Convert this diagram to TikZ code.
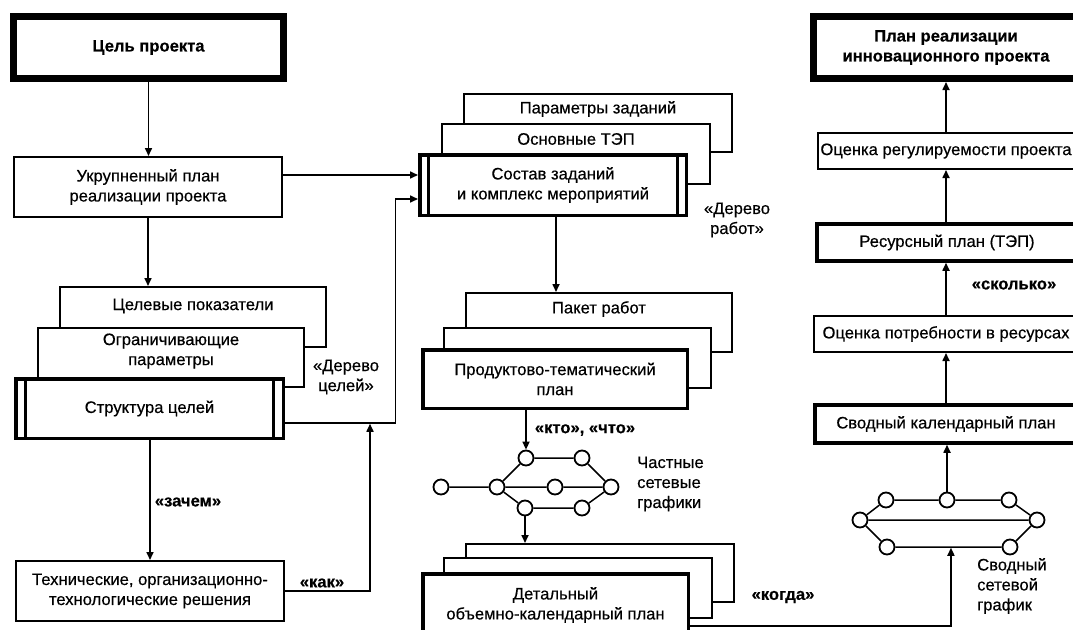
\documentclass[tikz,border=0pt]{standalone}
\usepackage{fontspec}
\setmainfont{Liberation Sans}[FakeBold=0.4]
\newfontfamily\titlefont{Liberation Sans}[FakeBold=0.4]
\usetikzlibrary{arrows.meta,calc}
\begin{document}
\begin{tikzpicture}[x=1pt,y=-1pt,
  every node/.style={font=\fontsize{16.6}{20}\selectfont, align=center, inner sep=0pt},
  box/.style={draw, fill=white, line width=2pt, rectangle},
  heavybox/.style={box, line width=3.5pt},
  titlebox/.style={box, line width=7pt, font=\fontsize{16.6}{20}\selectfont\bfseries},
  bars/.style={path picture={
     \draw[line width=3pt] ([xshift=#1]path picture bounding box.north west) -- ([xshift=#1]path picture bounding box.south west);
     \draw[line width=3pt] ([xshift=-#1]path picture bounding box.north east) -- ([xshift=-#1]path picture bounding box.south east);}},
  ev/.style={circle, draw, fill=white, line width=1.8pt, minimum size=15pt},
  netline/.style={line width=1.5pt},
  arr/.style={line width=1.6pt, -{Triangle[length=8pt,width=7pt]}},
  lbl/.style={},
  blbl/.style={font=\fontsize{16.6}{20}\selectfont\bfseries},
]
\useasboundingbox (0,0) rectangle (1073,629);
\clip (0,0) rectangle (1073,629);
\fill[white] (0,0) rectangle (1073,629);

% ---- left column
\node[titlebox, minimum width=270, minimum height=62] (goal) at (148.5,47.5) {Цель проекта};
\node[box, minimum width=268, minimum height=60] (plan1) at (148,187) {Укрупненный план\\реализации проекта};
\node[box, minimum width=266, minimum height=60, label={[anchor=center,yshift=-20pt]north:Целевые показатели}] (cel) at (193,317) {};
\node[box, minimum width=266, minimum height=59, label={[anchor=center,yshift=-24pt]north:Ограничивающие\\параметры}] (ogr) at (171,357.5) {};
\node[heavybox, bars=9.5pt, minimum width=267.5, minimum height=59.5] (struct) at (149.5,408.5) {Структура целей};
\node[box, minimum width=268, minimum height=60] (tech) at (150,591) {Технические, организационно-\\технологические решения};

% ---- middle column
\node[box, minimum width=268, minimum height=58, label={[anchor=center,yshift=-16pt]north:Параметры заданий}] (parz) at (598,123) {};
\node[box, minimum width=268, minimum height=60, label={[anchor=center,yshift=-16pt]north:Основные ТЭП}] (tep) at (576,154) {};
\node[heavybox, bars=9pt, minimum width=266.5, minimum height=60.5] (sostav) at (553,185) {Состав заданий\\и комплекс мероприятий};

\node[box, minimum width=266, minimum height=59, label={[anchor=center,yshift=-17pt]north:Пакет работ}] (paket) at (599,322.5) {};
\node[box, minimum width=267, minimum height=60] (blank2) at (577.5,358) {};
\node[heavybox, minimum width=264.5, minimum height=58.5] (prod) at (555,379) {Продуктово-тематический\\план};

\node[box, minimum width=268, minimum height=58] (b3a) at (600,573) {};
\node[box, minimum width=268, minimum height=60] (b3b) at (578,588) {};
\node[heavybox, minimum width=265.5, minimum height=62.5] (detal) at (555.5,605) {Детальный\\объемно-календарный план};

% ---- right column
\node[titlebox, minimum width=265, minimum height=62] (plan) at (946,47.5) {План реализации\\инновационного проекта};
\node[box, minimum width=256, minimum height=36] (ocreg) at (946,151) {Оценка регулируемости проекта};
\node[box, line width=3.5pt, minimum width=260, minimum height=37] (resurs) at (947,242.5) {Ресурсный план (ТЭП)};
\node[box, minimum width=264, minimum height=36] (ocpotr) at (946,334) {Оценка потребности в ресурсах};
\node[box, line width=3.5pt, minimum width=262, minimum height=38] (svod) at (946,424) {Сводный календарный план};

% ---- network 1
\node[ev] (n1a) at (441,487) {};
\node[ev] (n1b) at (497,487) {};
\node[ev] (n1c) at (526,458) {};
\node[ev] (n1d) at (582,458) {};
\node[ev] (n1e) at (555,487) {};
\node[ev] (n1f) at (611,487) {};
\node[ev] (n1g) at (525,508) {};
\node[ev] (n1h) at (582,508) {};
\draw[netline] (n1a) -- (n1b) (n1b) -- (n1e) (n1e) -- (n1f)
  (n1b) -- (n1c) (n1c) -- (n1d) (n1d) -- (n1f)
  (n1b) -- (n1g) (n1g) -- (n1h) (n1h) -- (n1f);

% ---- network 2
\node[ev] (n2a) at (860,520) {};
\node[ev] (n2b) at (886,500) {};
\node[ev] (n2c) at (947,500) {};
\node[ev] (n2d) at (1009,500) {};
\node[ev] (n2e) at (1037,520) {};
\node[ev] (n2f) at (887,547) {};
\node[ev] (n2g) at (1010,547) {};
\draw[netline] (n2a) -- (n2b) (n2b) -- (n2c) (n2c) -- (n2d) (n2d) -- (n2e)
  (n2a) -- (n2e) (n2a) -- (n2f) (n2f) -- (n2g) (n2g) -- (n2e);

% ---- labels
\node[lbl] (dc) at (346,377) {«Дерево\\целей»};
\node[blbl] (zachem) at (188,502) {«зачем»};
\node[blbl] (kak) at (322,583) {«как»};
\node[lbl] (dr) at (737,220) {«Дерево\\работ»};
\node[blbl] (kto) at (585,430) {«кто», «что»};
\node[lbl, anchor=west, align=left] (chs) at (637,484) {Частные\\сетевые\\графики};
\node[blbl] (kogda) at (783,597) {«когда»};
\node[blbl] (skolko) at (1014,285) {«сколько»};
\node[lbl, anchor=west, align=left] (ssg) at (977,586) {Сводный\\сетевой\\график};

% ---- connectors
\draw[arr] (goal.south) -- (goal.south |- plan1.north);
\draw[arr] (plan1.south) -- (plan1.south |- cel.north);
\draw[arr] (struct.south -| tech.north) -- (tech.north);
\draw[arr] ([yshift=12pt]plan1.east) -- ([yshift=12pt]plan1.east -| sostav.west);
\draw[arr] ([yshift=-14.5pt]struct.east) -- ++(110.5,0) |- ([yshift=-14pt]sostav.west);
\coordinate (kakend) at (370,423.75);
\draw[arr] (tech.east) -| (kakend);
\draw[arr] ([xshift=3pt]sostav.south) -- ([xshift=3pt]sostav.south |- paket.north);
\draw[arr] (prod.south -| n1c) -- (n1c);
\draw[arr] (n1g) -- (n1g |- b3a.north);
\coordinate (kogdaend) at ($(n2f)!0.52!(n2g)+(0,0.75)$);
\draw[arr] ([yshift=-21pt]detal.east) -| (kogdaend);
\draw[arr] (n2c) -- (n2c |- svod.south);
\draw[arr] (svod.north) -- (svod.north |- ocpotr.south);
\draw[arr] (ocpotr.north) -- (ocpotr.north |- resurs.south);
\draw[arr] (resurs.north -| ocreg.north) -- (ocreg.south);
\draw[arr] (ocreg.north) -- (ocreg.north |- plan.south);
\end{tikzpicture}
\end{document}
